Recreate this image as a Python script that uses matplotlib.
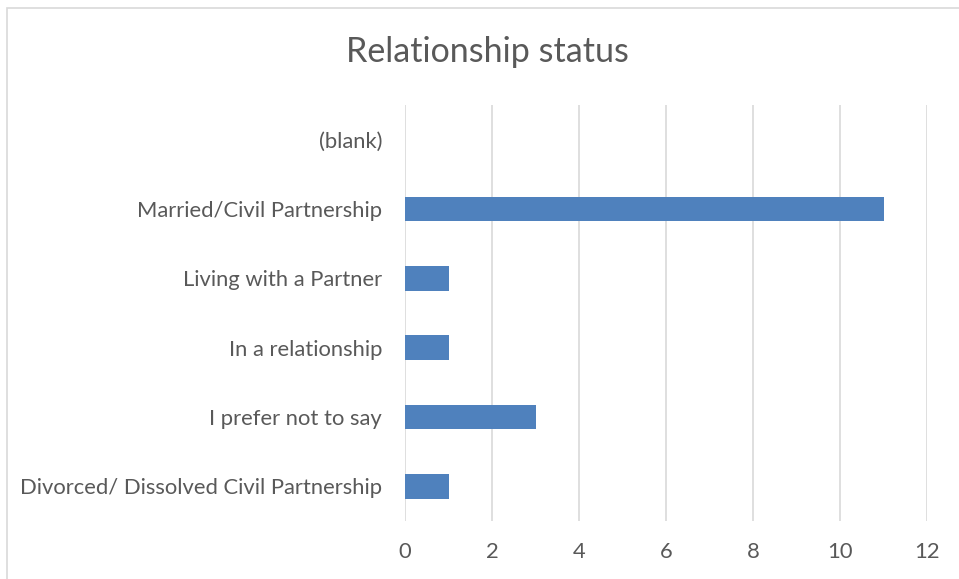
import matplotlib
matplotlib.use("Agg")
import matplotlib.pyplot as plt
from matplotlib.patches import Rectangle

categories = ["Divorced/ Dissolved Civil Partnership", "I prefer not to say",
              "In a relationship", "Living with a Partner",
              "Married/Civil Partnership", "(blank)"]
values = [1, 3, 1, 1, 11, 0]
xticks = [0, 2, 4, 6, 8, 10, 12]

plt.rcParams['font.family'] = ['Lato', 'DejaVu Sans']
W, H = 959, 579
fig = plt.figure(figsize=(W/100, H/100), dpi=100)
fig.patch.set_facecolor("white")
fig.patches.append(Rectangle((6.5/W, -0.1), 2, 1 - 7.5/H + 0.1, transform=fig.transFigure,
                             fill=False, edgecolor="#D9D9D9", linewidth=1.2))

ax = fig.add_axes([405/W, 1 - 521/H, (927-405)/W, (521-105)/H])
ypos = list(range(len(categories)))
ax.barh(ypos, values, height=0.36, color="#4F81BD", zorder=3)
ax.set_xlim(0, 12)
ax.set_ylim(-0.5, len(categories) - 0.5)
ax.set_xticks(xticks)
ax.set_xticklabels([str(t) for t in xticks])
ax.set_yticks(ypos)
ax.set_yticklabels(categories)
ax.xaxis.grid(True, color="#D9D9D9", linewidth=1.2, zorder=0)
for s in ax.spines.values():
    s.set_visible(False)
ax.tick_params(axis="both", length=0, labelsize=15.8, colors="#595959")
ax.tick_params(axis="x", pad=15)
ax.tick_params(axis="y", pad=16.5)
fig.text(487/W, 1 - 52/H, "Relationship status", ha="center", va="center",
         fontsize=24.5, color="#595959")
fig.savefig("out.png", dpi=100)
